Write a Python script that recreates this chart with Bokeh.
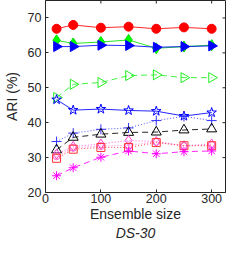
import numpy as np
from bokeh.plotting import figure
from bokeh.models import Range1d, FixedTicker, LinearAxis
from bokeh.embed import file_html
from bokeh.resources import INLINE

ensemble_size = [20, 50, 100, 150, 200, 250, 300]

s_red_circle = [66.9, 68.0, 67.2, 67.5, 66.9, 67.3, 66.9]
s_green_diamond = [63.6, 62.7, 63.1, 63.7, 61.3, 61.8, 62.2]
s_blue_tri = [61.8, 61.8, 62.2, 62.1, 61.6, 61.8, 62.0]
s_green_open_tri = [47.2, 51.0, 51.5, 53.5, 53.7, 52.9, 52.9]
s_blue_star = [46.6, 43.6, 43.9, 43.5, 43.3, 41.9, 42.9]
s_blue_plus = [34.6, 37.0, 38.1, 38.5, 40.6, 41.8, 40.6]
s_black_tri = [32.2, 35.8, 36.7, 37.2, 37.3, 37.9, 38.2]
s_pink_diamond = [31.0, 33.2, 33.9, 34.9, 34.6, 33.4, 33.9]
s_pink_circle = [30.4, 32.8, 33.3, 33.5, 34.5, 33.3, 33.6]
s_red_square = [29.8, 32.4, 32.9, 32.9, 34.3, 33.4, 33.4]
s_magenta_star = [24.8, 27.1, 30.1, 31.9, 31.1, 31.7, 31.9]

x_ticks = [0, 100, 200, 300]
y_ticks = [20, 30, 40, 50, 60, 70]
x_lim = (0, 325)
y_lim = (20, 75)
panel_title = "DS-30"

FONT = "Liberation Sans"
TXT = "#262626"

p = figure(width=226, height=243, output_backend="svg", toolbar_location=None,
           x_range=Range1d(*x_lim), y_range=Range1d(*y_lim),
           min_border_left=4, min_border_right=1, min_border_top=0, min_border_bottom=0)
p.grid.visible = False
p.outline_line_color = "#262626"
p.outline_line_width = 1
p.background_fill_color = "white"

for ax in (p.xaxis[0], p.yaxis[0]):
    ax.major_label_text_font = FONT
    ax.major_label_text_font_size = "12.5px"
    ax.major_label_text_color = TXT
    ax.axis_label_text_font = FONT
    ax.axis_label_text_font_size = "14px"
    ax.axis_label_text_font_style = "normal"
    ax.axis_label_text_color = TXT
    ax.major_tick_in = 3
    ax.major_tick_out = 0
    ax.minor_tick_line_color = None
    ax.axis_line_color = "#262626"
    ax.major_tick_line_color = "#262626"

p.xaxis[0].ticker = FixedTicker(ticks=x_ticks)
p.yaxis[0].ticker = FixedTicker(ticks=y_ticks)
p.xaxis[0].axis_label = "Ensemble size"
p.yaxis[0].axis_label = "ARI (%)"
p.xaxis[0].major_label_standoff = 1
p.yaxis[0].major_label_standoff = 4
p.xaxis[0].axis_label_standoff = 0
p.yaxis[0].axis_label_standoff = 5

# panel caption below the x-axis label, as a tickless axis label
cap = LinearAxis(ticker=FixedTicker(ticks=[]), axis_line_color=None,
                 major_tick_line_color=None, minor_tick_line_color=None,
                 major_tick_in=0, major_tick_out=0, major_label_standoff=0,
                 axis_label=panel_title, axis_label_standoff=0,
                 axis_label_text_font=FONT, axis_label_text_font_size="14px",
                 axis_label_text_font_style="italic", axis_label_text_color=TXT)
p.add_layout(cap, "below")

# inward tick marks on the top and right edges of the box
p.ray(x=x_ticks, y=[y_lim[1]] * len(x_ticks), length=3, length_units="screen",
      angle=-np.pi / 2, line_color="#262626", line_width=1)
p.ray(x=[x_lim[1]] * len(y_ticks), y=y_ticks, length=3, length_units="screen",
      angle=np.pi, line_color="#262626", line_width=1)

x = ensemble_size

def series(y, color, dash, marker, size, fill=None, angle=0.0, lw=1.0):
    p.line(x, y, line_color=color, line_dash=dash, line_width=lw, line_alpha=0.85)
    p.scatter(x, y, marker=marker, size=size, line_color=color, line_width=1,
              fill_color=fill if fill else None, angle=angle)

series(s_red_circle, "#ff0000", "solid", "circle", 9, fill="#ff0000")
series(s_green_diamond, "#00e000", "solid", "diamond", 11, fill="#00ff00")
series(s_blue_tri, "#0000ff", "solid", "triangle", 10, fill="#0000ff", angle=-np.pi / 2)
series(s_green_open_tri, "#22ee22", "6 4", "triangle", 10, angle=-np.pi / 2)
series(s_blue_star, "#0000ff", "solid", "star", 10)
series(s_blue_plus, "#3333ff", "1 2", "cross", 10)
series(s_black_tri, "#000000", "6 4", "triangle", 10)
series(s_pink_diamond, "#ff44dd", "1 2", "diamond", 10)
series(s_pink_circle, "#ff66cc", "1 2", "circle", 7)
series(s_red_square, "#ff3333", "1 2", "square", 8)
series(s_magenta_star, "#ff00ff", "6 4", "asterisk", 9)

open("out.html", "w").write(file_html(p, INLINE))
